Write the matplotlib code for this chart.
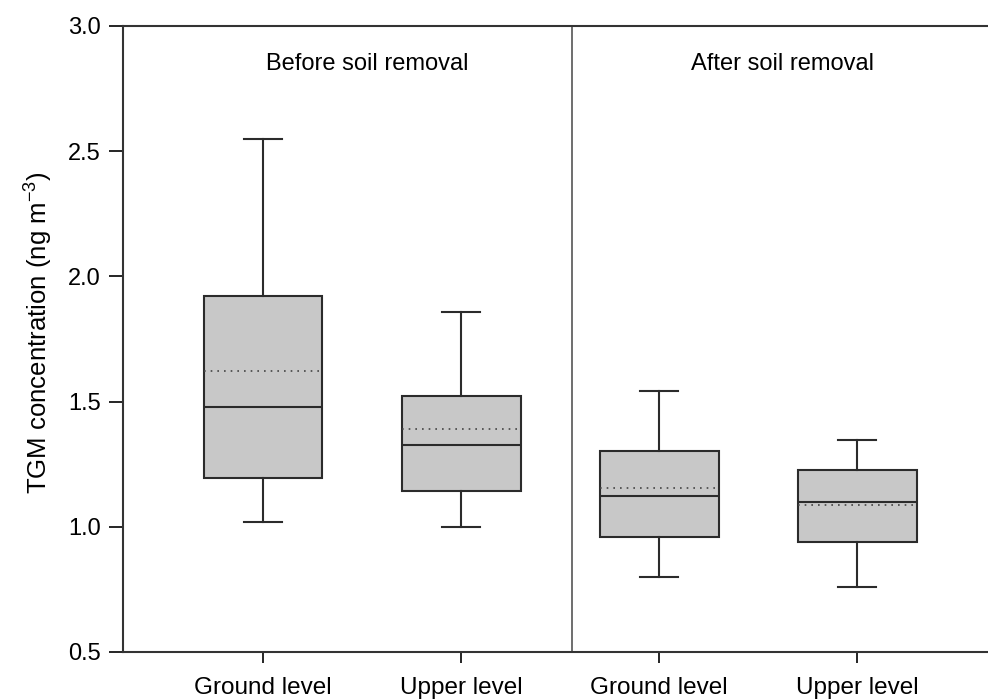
import matplotlib
matplotlib.use("Agg")
import matplotlib.pyplot as plt

plt.rcParams['font.family'] = ['Liberation Sans', 'DejaVu Sans']
plt.rcParams['mathtext.default'] = 'regular'

# TGM concentration summary per group (ng m-3)
groups = ['Ground level', 'Upper level', 'Ground level', 'Upper level']
whislo = [1.02, 1.00, 0.80, 0.76]
q1 = [1.196, 1.142, 0.958, 0.938]
med = [1.48, 1.328, 1.123, 1.100]
mean = [1.622, 1.389, 1.156, 1.087]
q3 = [1.922, 1.523, 1.304, 1.228]
whishi = [2.55, 1.857, 1.544, 1.345]
period_labels = ['Before soil removal', 'After soil removal']

stats = []
for i in range(len(groups)):
    stats.append(dict(label=groups[i], whislo=whislo[i], q1=q1[i], med=med[i],
                      q3=q3[i], whishi=whishi[i], mean=mean[i], fliers=[]))

fig = plt.figure(figsize=(9.88, 7), dpi=100)
fig.patch.set_facecolor('white')
ax = fig.add_axes([0.1245, 0.0686, 0.8755, 0.8943])

pos = [1, 2, 3, 4]
edge = '#2b2b2b'
ax.bxp(stats, positions=pos, widths=0.6, patch_artist=True,
       showmeans=True, meanline=True, showfliers=False,
       boxprops=dict(facecolor='#c8c8c8', edgecolor=edge, linewidth=1.5),
       medianprops=dict(color=edge, linewidth=1.5),
       meanprops=dict(color='#444444', linestyle=(0, (1, 3)), linewidth=1.2),
       whiskerprops=dict(color=edge, linewidth=1.5),
       capprops=dict(color=edge, linewidth=1.5), capwidths=0.19)

ax.set_xlim(0.293, 4.66)
ax.set_ylim(0.5, 3.0)
ax.set_yticks([0.5, 1.0, 1.5, 2.0, 2.5, 3.0])
ax.set_yticklabels(['0.5', '1.0', '1.5', '2.0', '2.5', '3.0'])
ax.set_xticks(pos)
ax.set_xticklabels(groups)

# separator between the two periods
ax.axvline(2.56, color='#555555', linewidth=1.2)
ax.text(1.528, 2.85, period_labels[0], ha='center', va='center', fontsize=17)
ax.text(3.62, 2.85, period_labels[1], ha='center', va='center', fontsize=17)

ax.spines['right'].set_visible(False)
for s in ['left', 'bottom', 'top']:
    ax.spines[s].set_linewidth(1.5)
    ax.spines[s].set_color('#333333')
ax.tick_params(axis='y', direction='out', length=10, width=1.2, labelsize=17, pad=6)
ax.tick_params(axis='x', direction='out', length=8, width=1.2, labelsize=17.5, pad=10)
ax.set_ylabel('TGM concentration (ng m$^{-3}$)', fontsize=18.5)
ax.yaxis.set_label_coords(-0.079, 0.51)

fig.savefig('out.png', dpi=100)
